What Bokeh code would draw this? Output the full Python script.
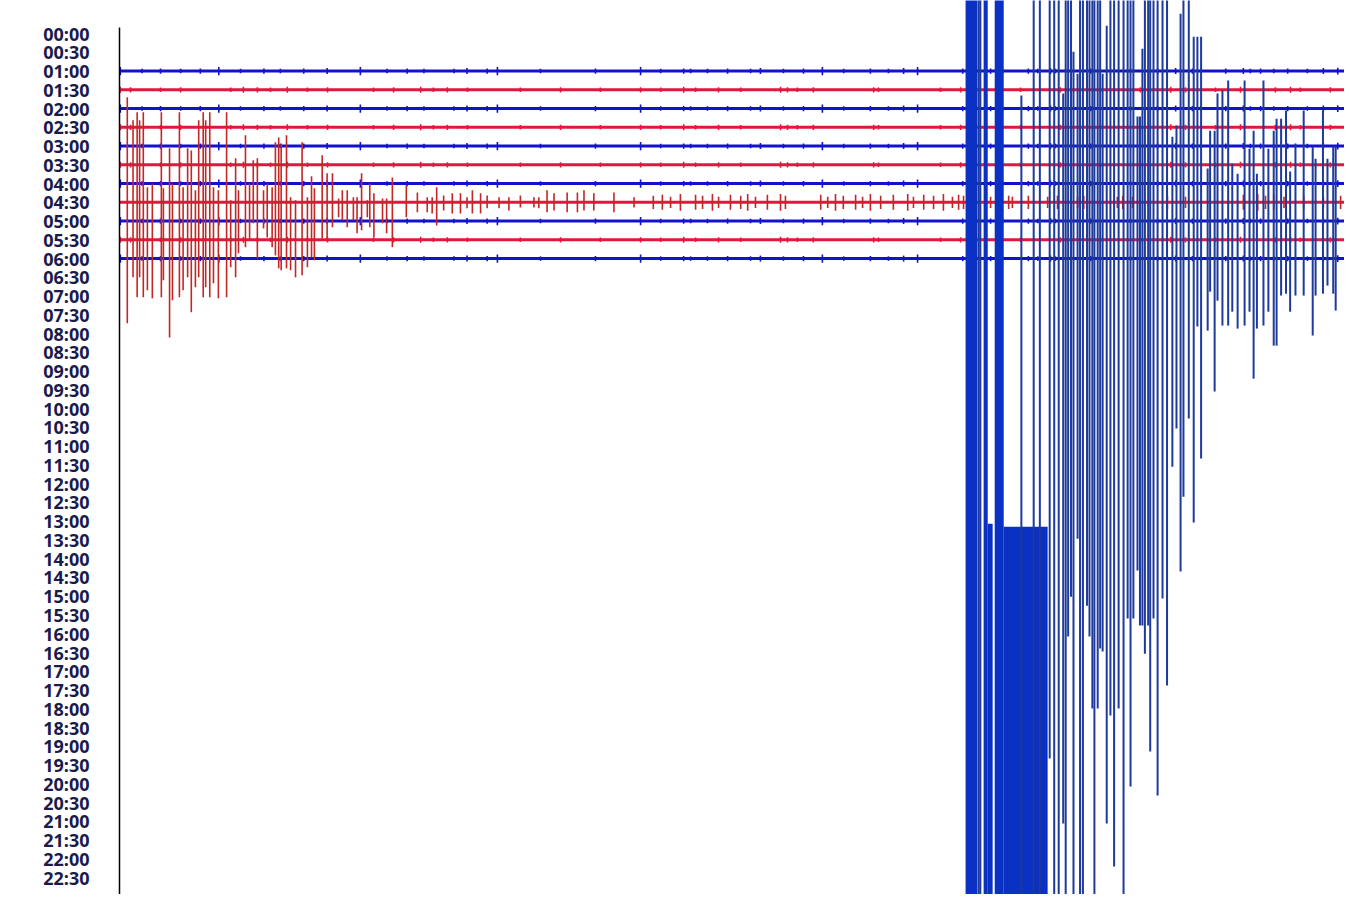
from bokeh.plotting import figure
from bokeh.models import Range1d, FixedTicker, ColumnDataSource
from bokeh.embed import file_html
from bokeh.resources import INLINE

# ---- row labels (30-minute helicorder lines) ----
row_labels = ["00:00", "00:30", "01:00", "01:30", "02:00", "02:30", "03:00", "03:30",
              "04:00", "04:30", "05:00", "05:30", "06:00", "06:30", "07:00", "07:30",
              "08:00", "08:30", "09:00", "09:30", "10:00", "10:30", "11:00", "11:30",
              "12:00", "12:30", "13:00", "13:30", "14:00", "14:30", "15:00", "15:30",
              "16:00", "16:30", "17:00", "17:30", "18:00", "18:30", "19:00", "19:30",
              "20:00", "20:30", "21:00", "21:30", "22:00", "22:30"]

# rows that carry a trace, and their colour family
trace_rows = ["01:00", "01:30", "02:00", "02:30", "03:00", "03:30",
              "04:00", "04:30", "05:00", "05:30", "06:00"]
trace_kind = ["b", "r", "b", "r", "b", "r", "b", "r", "b", "r", "b"]
row_minutes = 30.0

# background micro-bursts common to the blue rows (minute in row, amplitude in row units)
blue_burst_t = [0.02, 0.55, 1.00, 1.49, 1.97, 2.42, 2.95, 3.52, 3.92, 4.49, 5.06, 5.87, 6.52,
                7.01, 7.42, 8.15, 8.47, 8.96, 9.21, 10.26, 11.60, 12.70, 13.19, 13.75, 13.92,
                14.33, 14.82, 15.38, 15.62, 16.18, 16.67, 17.13, 17.65, 18.30, 18.74, 19.11,
                19.45, 20.55, 21.23, 21.52, 22.15, 22.38, 22.69, 22.81, 23.67, 24.64, 25.30,
                25.74, 26.15, 26.35, 26.96, 27.39, 27.56, 27.81, 28.13, 28.47, 28.95, 29.34,
                29.69]
blue_burst_a = [0.22, 0.12, 0.14, 0.12, 0.14, 0.22, 0.12, 0.14, 0.12, 0.14, 0.16, 0.22, 0.12,
                0.14, 0.12, 0.12, 0.16, 0.14, 0.22, 0.12, 0.14, 0.22, 0.12, 0.14, 0.12,
                0.12, 0.14, 0.12, 0.16, 0.12, 0.14, 0.22, 0.12, 0.14, 0.12, 0.16,
                0.22, 0.14, 0.14, 0.12, 0.14, 0.12, 0.16, 0.12, 0.14, 0.12, 0.14,
                0.16, 0.14, 0.12, 0.14, 0.16, 0.12, 0.14, 0.12, 0.14, 0.12, 0.16,
                0.18]

# background micro-bursts on the red rows
red_burst_t = [0.02, 0.27, 1.00, 1.49, 2.71, 3.02, 3.36, 3.68, 4.09, 4.58, 5.07, 6.19, 6.68,
               7.34, 7.65, 7.99, 8.48, 9.77, 10.75, 11.72, 12.70, 13.19, 13.75, 14.04, 14.60,
               15.14, 16.11, 16.28, 16.52, 16.91, 18.38, 18.50, 20.01, 20.50, 21.47, 21.96,
               22.93, 23.91, 24.88, 25.62, 25.98, 26.71, 27.32, 28.17, 28.54, 28.78, 29.51]
red_burst_a = [0.16, 0.14, 0.12, 0.14, 0.12, 0.16, 0.14, 0.12, 0.16, 0.12, 0.14, 0.12, 0.14,
               0.16, 0.12, 0.14, 0.12, 0.12, 0.14, 0.12, 0.14, 0.12, 0.16, 0.12, 0.14,
               0.12, 0.16, 0.14, 0.12, 0.14, 0.14, 0.12, 0.12, 0.14, 0.16, 0.12,
               0.14, 0.12, 0.14, 0.16, 0.14, 0.12, 0.16, 0.14, 0.16, 0.12, 0.14]

# earthquake on the 04:30 line: minute, upward and downward excursion (row units)
quake_row = "04:30"
quake_t = [0.19, 0.33, 0.43, 0.49, 0.58, 0.68, 0.80, 1.02, 1.07, 1.22, 1.29, 1.46, 1.55, 1.66,
           1.75, 1.85, 1.93, 2.04, 2.10, 2.20, 2.29, 2.41, 2.61, 2.71, 2.83, 2.90, 3.07, 3.17,
           3.26, 3.36, 3.51, 3.60, 3.72, 3.80, 3.88, 3.94, 4.07, 4.17, 4.29, 4.45, 4.58, 4.68,
           4.75, 4.94, 5.06, 5.19, 5.34, 5.43, 5.55, 5.70, 5.79, 5.90, 6.04, 6.10, 6.20, 6.41,
           6.51, 6.65, 6.99, 7.26, 7.50, 7.62, 7.73, 7.90, 8.11, 8.31, 8.47, 8.60, 8.80, 8.96,
           9.25, 9.49, 9.77, 10.10, 10.22, 10.42, 10.59, 10.91, 11.16, 11.32, 11.56, 12.05,
           12.54, 13.01, 13.23, 13.43, 13.67, 14.04, 14.21, 14.45, 14.60, 14.89, 15.14, 15.31,
           15.50, 15.79, 16.11, 16.23, 17.09, 17.26, 17.45, 17.64, 17.94, 18.11, 18.30, 18.55,
           18.86, 19.21, 19.35, 19.60, 19.84, 20.08, 20.30, 20.45, 20.57, 21.23, 21.67, 21.76,
           22.15, 22.62, 22.86, 23.35, 23.50, 24.32, 24.45, 24.69, 25.54, 25.98, 27.39, 27.74,
           27.93, 28.13, 28.38, 28.86, 29.34, 29.76]
quake_up = [5.60, 4.37, 4.80, 4.37, 4.80, 0.80, 1.01, 4.80, 0.75, 2.88, 1.01, 4.80, 0.80, 2.88,
            2.77, 0.64, 4.37, 4.80, 4.37, 4.80, 0.80, 0.64, 4.80, 0.11, 2.35, 0.64, 3.57, 1.01,
            2.24, 2.35, 0.64, 1.01, 0.80, 3.20, 3.46, 3.14, 3.57, 0.27, 0.11, 3.20, 0.27, 1.39,
            0.75, 2.51, 1.55, 1.55, 0.21, 0.64, 0.64, 0.27, 0.27, 1.55, 0.11, 1.01, 0.48, 0.21,
            0.21, 1.33, 0.91, 0.53, 0.27, 0.27, 0.80, 0.37, 0.48, 0.48, 0.27, 0.64, 0.48, 0.37,
            0.27, 0.27, 0.37, 0.27, 0.27, 0.64, 0.48, 0.53, 0.53, 0.64, 0.48, 0.53,
            0.27, 0.35, 0.40, 0.30, 0.45, 0.40, 0.35, 0.45, 0.30, 0.40, 0.35, 0.45,
            0.30, 0.40, 0.45, 0.35, 0.40, 0.30, 0.45, 0.35, 0.40, 0.30, 0.45, 0.35,
            0.40, 0.45, 0.30, 0.40, 0.35, 0.45, 0.30, 0.40, 0.35, 0.30, 0.35, 0.30,
            0.35, 0.30, 0.35, 0.30, 0.35, 0.30, 0.35, 0.30, 0.35, 0.30, 0.40, 0.45,
            0.35, 0.40, 0.30, 0.35, 0.30, 0.35]
quake_down = [6.45, 4.00, 5.06, 4.00, 5.06, 4.69, 5.12, 5.06, 4.16, 7.20, 5.22, 5.06, 4.69, 4.00,
              5.86, 4.53, 4.00, 5.06, 4.53, 5.06, 4.32, 5.12, 5.06, 3.46, 4.00, 2.72, 2.40, 2.03,
              1.12, 2.99, 1.39, 1.87, 2.40, 2.83, 3.52, 3.62, 3.52, 3.62, 4.00, 3.89, 3.46, 2.93,
              3.09, 1.92, 2.03, 1.33, 0.80, 0.96, 1.33, 0.96, 1.65, 1.49, 0.80, 1.33, 1.87, 1.12,
              1.65, 2.40, 0.80, 0.53, 0.53, 0.59, 1.23, 0.43, 0.59, 0.59, 0.32, 0.59, 0.59, 0.32,
              0.32, 0.43, 0.27, 0.27, 0.32, 0.53, 0.43, 0.53, 0.53, 0.43, 0.43, 0.53,
              0.27, 0.35, 0.40, 0.30, 0.45, 0.40, 0.35, 0.45, 0.30, 0.40, 0.35, 0.45,
              0.30, 0.40, 0.45, 0.35, 0.40, 0.30, 0.45, 0.35, 0.40, 0.30, 0.45, 0.35,
              0.40, 0.45, 0.30, 0.40, 0.35, 0.45, 0.30, 0.40, 0.35, 0.30, 0.35, 0.30,
              0.35, 0.30, 0.35, 0.30, 0.35, 0.30, 0.35, 0.30, 0.35, 0.30, 0.40, 0.45,
              0.35, 0.40, 0.30, 0.35, 0.30, 0.35]

# clipped blue signal on the 06:00 line: minute, upward / downward excursion (row units)
blue_row = "06:00"
blue_t = [20.94, 20.98, 21.98, 22.28, 22.43, 22.67, 22.78, 22.89, 23.00, 23.06, 23.12, 23.19,
          23.25, 23.35, 23.41, 23.48, 23.58, 23.64, 23.71, 23.76, 23.84, 23.90, 23.96, 24.06,
          24.15, 24.24, 24.35, 24.47, 24.57, 24.64, 24.71, 24.81, 24.87, 24.93, 24.99, 25.07,
          25.12, 25.20, 25.30, 25.42, 25.53, 25.66, 25.76, 25.86, 25.93, 26.06, 26.18, 26.27,
          26.36, 26.52, 26.58, 26.69, 26.76, 26.88, 27.02, 27.12, 27.25, 27.42, 27.54, 27.64,
          27.72, 27.88, 28.00, 28.13, 28.20, 28.31, 28.43, 28.53, 28.66, 28.86, 29.08, 29.15,
          29.33, 29.44, 29.58, 29.64]
blue_up = [15, 15, 8.69, 15, 15, 15, 15, 15, 8.80, 15, 15, 15,
           11.03, 9.86, 15, 15, 15, 15, 15, 15, 15, 15, 9.86, 12.42,
           15, 15, 15, 15, 15, 15, 15, 7.57, 7.57, 11.19, 15, 15,
           15, 15, 15, 15, 15, 6.50, 7.09, 13.06, 15, 15, 11.83, 11.83,
           11.83, 4.80, 6.82, 6.82, 8.80, 8.96, 9.49, 5.06, 4.53, 9.49, 5.86, 6.82,
           4.53, 9.49, 5.86, 6.82, 7.46, 7.46, 7.89, 4.64, 6.13, 7.89, 5.97, 5.33,
           7.89, 5.33, 5.97, 5.97]
blue_down = [35, 35, 35, 35, 35, 26.65, 35, 35, 30.12, 35, 20.15, 18.02,
             35, 14.93, 35, 35, 18.50, 20.15, 23.99, 35, 23.99, 20.79, 20.95, 30.12,
             24.36, 32.41, 23.99, 35, 19.19, 28.14, 19.19, 16.63, 19.56, 19.56, 21.06, 19.56,
             26.28, 19.19, 28.62, 18.12, 22.76, 11.09, 9.06, 16.68, 12.69, 8.53, 14.07, 3.62,
             10.66, 3.84, 1.76, 7.09, 2.24, 3.57, 3.57, 2.83, 3.73, 3.57, 2.83, 6.40,
             3.73, 3.57, 2.83, 4.64, 4.64, 1.97, 1.87, 2.83, 1.97, 1.97, 4.10, 1.97,
             1.87, 1.44, 1.87, 2.77]

# saturated (fully clipped) stretches of the blue signal: start/end minute, up/down excursion
sat_t0 = [20.62, 21.06, 21.16, 21.33, 21.55]
sat_t1 = [20.91, 21.16, 21.28, 21.55, 22.62]
sat_up = [15, 15, -14.13, 15, -14.29]
sat_down = [35, 35, 35, 35, 35]

# ---- styling ----
BLUE = "#1212cc"
RED = "#e2173f"
QUAKE_RED = "#c42626"
SPIKE_BLUE = "#1d3a9c"
SAT_BLUE = "#0a30c4"
LABEL = "#1b1b4b"

row_index = {lab: i for i, lab in enumerate(row_labels)}

p = figure(width=1344, height=894,
           x_range=Range1d(0, 29.855), y_range=Range1d(45.90, -1.76),
           output_backend="svg", toolbar_location=None,
           min_border_left=119, min_border_top=0, min_border_right=0, min_border_bottom=0)
p.xaxis.visible = False
p.grid.visible = False
p.outline_line_color = None
p.background_fill_color = "white"

ax = p.yaxis[0]
ax.ticker = FixedTicker(ticks=list(range(len(row_labels))))
ax.major_label_overrides = {i: lab for i, lab in enumerate(row_labels)}
ax.bounds = (-0.32, 45.90)
ax.major_tick_line_color = None
ax.minor_tick_line_color = None
ax.major_tick_out = 0
ax.major_tick_in = 0
ax.major_label_standoff = 30
ax.axis_line_color = "black"
ax.axis_line_width = 1.5
ax.major_label_text_font = "Open Sans"
ax.major_label_text_font_style = "bold"
ax.major_label_text_font_size = "18px"
ax.major_label_text_color = LABEL

# baselines
base = dict(x0=[], x1=[], y=[], c=[])
for lab, k in zip(trace_rows, trace_kind):
    base["x0"].append(0.0)
    base["x1"].append(row_minutes)
    base["y"].append(row_index[lab])
    base["c"].append(BLUE if k == "b" else RED)
src_base = ColumnDataSource(base)
p.segment(x0="x0", y0="y", x1="x1", y1="y", line_color="c", line_width=3, source=src_base)

# background micro-bursts
nb = dict(x=[], y0=[], y1=[], c=[])
for lab, k in zip(trace_rows, trace_kind):
    y = row_index[lab]
    if k == "b":
        for t, a in zip(blue_burst_t, blue_burst_a):
            nb["x"].append(t); nb["y0"].append(y - a); nb["y1"].append(y + a); nb["c"].append(BLUE)
    elif lab != quake_row:
        for t, a in zip(red_burst_t, red_burst_a):
            nb["x"].append(t); nb["y0"].append(y - a); nb["y1"].append(y + a); nb["c"].append(RED)
src_nb = ColumnDataSource(nb)
p.segment(x0="x", y0="y0", x1="x", y1="y1", line_color="c", line_width=1.6, source=src_nb)

# quake on the 04:30 line
yq = row_index[quake_row]
src_q = ColumnDataSource(dict(x=quake_t,
                              top=[yq - u for u in quake_up],
                              bot=[yq + d for d in quake_down]))
p.segment(x0="x", y0="top", x1="x", y1="bot", line_color=QUAKE_RED, line_width=1.6, source=src_q)

# saturated stretches of the blue signal
yb = row_index[blue_row]
src_sat = ColumnDataSource(dict(l=sat_t0, r=sat_t1,
                                top=[yb - u for u in sat_up],
                                bot=[yb + d for d in sat_down]))
p.quad(left="l", right="r", top="top", bottom="bot", fill_color=SAT_BLUE, line_color=None,
       source=src_sat)

# clipped blue spikes
src_b = ColumnDataSource(dict(x=blue_t,
                              top=[yb - u for u in blue_up],
                              bot=[yb + d for d in blue_down]))
p.segment(x0="x", y0="top", x1="x", y1="bot", line_color=SPIKE_BLUE, line_width=2, source=src_b)

open("out.html", "w").write(file_html(p, INLINE))
